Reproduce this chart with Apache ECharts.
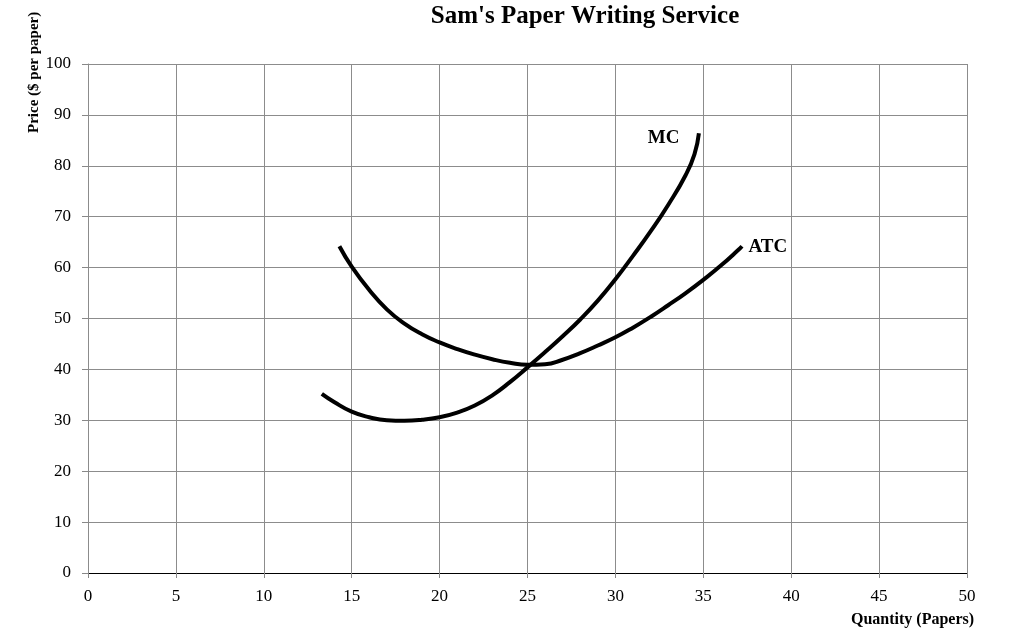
<!DOCTYPE html>
<html><head><meta charset="utf-8">
<script src="https://cdn.jsdelivr.net/npm/echarts@6/dist/echarts.min.js"></script>
<style>html,body{margin:0;padding:0;background:#fff}#c{width:1025px;height:643px}</style>
</head><body><div id="c"></div>
<script>
const title = "Sam's Paper Writing Service";
const xAxisName = "Quantity (Papers)";
const yAxisName = "Price ($ per paper)";
const mcData = [[13.3,35.2],[14,33.6],[15,31.7],[16,30.6],[17,30.0],[18,29.9],[19,30.1],[20,30.6],[21,31.5],[22,32.9],[23,34.9],[24,37.5],[25,40.4],[26,43.4],[27,46.5],[28,49.8],[29,53.5],[30,57.7],[31,62.3],[32,67.1],[33,72.3],[34,78.2],[34.5,82.3],[34.75,86.4]];
const atcData = [[14.3,64.2],[15,60.2],[16,55.6],[17,51.8],[18,49.0],[19,46.9],[20,45.3],[21,44.0],[22,42.9],[23,42.0],[24,41.3],[25,40.9],[26,41.0],[27,41.9],[28,43.2],[29,44.7],[30,46.3],[31,48.2],[32,50.3],[33,52.6],[34,55.0],[35,57.6],[36,60.4],[37,63.5],[37.2,64.2]];
const mcLabel = "MC";
const atcLabel = "ATC";

const FONT = "Liberation Serif";
const chart = echarts.init(document.getElementById('c'));
function endMark(data, text, pos, offset, distance){
  return {symbol:'circle', symbolSize:1, itemStyle:{color:'rgba(0,0,0,0)'}, animation:false,
    data:[{coord:data[data.length-1], label:{show:true, formatter:text, position:pos, offset:offset, distance:distance, fontFamily:FONT, fontWeight:'bold', fontSize:19, color:'#000'}}]};
}
chart.setOption({
  animation:false,
  backgroundColor:'#fff',
  title:{text:title, left:580, textAlign:'center', top:-1, textStyle:{fontFamily:FONT, fontWeight:'bold', fontSize:25, color:'#000'}},
  grid:{left:88, right:58, top:64, bottom:70},
  xAxis:{type:'value', min:0, max:50, interval:5,
    axisLine:{show:true, onZero:false, lineStyle:{color:'#000', width:1}},
    axisTick:{show:true, length:5, lineStyle:{color:'#888'}},
    axisLabel:{fontFamily:FONT, fontSize:17, color:'#000', margin:15},
    splitLine:{show:true, lineStyle:{color:'#8c8c8c', width:1}}},
  yAxis:{type:'value', min:0, max:100, interval:10,
    axisLine:{show:true, lineStyle:{color:'#8c8c8c', width:1}},
    axisTick:{show:true, length:6, lineStyle:{color:'#888'}},
    axisLabel:{fontFamily:FONT, fontSize:17, color:'#000', margin:17},
    splitLine:{show:true, lineStyle:{color:'#8c8c8c', width:1}}},
  graphic:[
    {type:'text', left:851, top:612, style:{text:xAxisName, font:'bold 16px "Liberation Serif"', fill:'#000'}},
    {type:'text', x:27, y:133, rotation:Math.PI/2, style:{text:yAxisName, font:'bold 15px "Liberation Serif"', fill:'#000'}}
  ],
  series:[
    {type:'line', name:'MC', data:mcData, smooth:0.5, showSymbol:false, symbol:'none', lineStyle:{color:'#000', width:4}, z:3,
      markPoint:endMark(mcData, mcLabel, 'left', [0,5], 19)},
    {type:'line', name:'ATC', data:atcData, smooth:0.5, showSymbol:false, symbol:'none', lineStyle:{color:'#000', width:4}, z:3,
      markPoint:endMark(atcData, atcLabel, 'right', [0,1], 6)}
  ]
});
</script></body></html>
